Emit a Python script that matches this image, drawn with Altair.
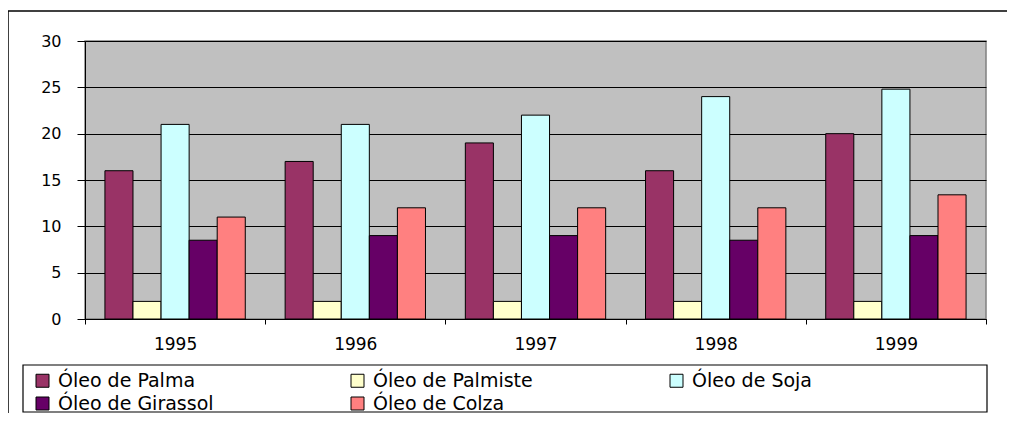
import altair as alt
import pandas as pd

years = ['1995', '1996', '1997', '1998', '1999']
series = ['Óleo de Palma', 'Óleo de Palmiste', 'Óleo de Soja', 'Óleo de Girassol', 'Óleo de Colza']
palma = [16, 17, 19, 16, 20]
palmiste = [1.9, 1.9, 1.9, 1.9, 1.9]
soja = [21, 21, 22, 24, 24.8]
girassol = [8.5, 9, 9, 8.5, 9]
colza = [11, 12, 12, 12, 13.4]
colors = ['#993366', '#FFFFCC', '#CCFFFF', '#660066', '#FF8080']
y_ticks = [0, 5, 10, 15, 20, 25, 30]

rows = []
for name, vals in zip(series, [palma, palmiste, soja, girassol, colza]):
    for yr, v in zip(years, vals):
        rows.append({'Ano': yr, 'Serie': name, 'Valor': v})
df = pd.DataFrame(rows)

W, H = 901, 278
FONT = 'DejaVu Sans'

bars = alt.Chart(df).mark_bar(stroke='black', strokeWidth=1).encode(
    x=alt.X('Ano:N', title=None,
            scale=alt.Scale(paddingInner=0, paddingOuter=0),
            axis=alt.Axis(labelAngle=0, tickBand='extent', tickSize=5,
                          labelFontSize=17, labelFont=FONT, labelColor='black',
                          labelPadding=12, domainColor='black', tickColor='black',
                          domainWidth=1, grid=False)),
    xOffset=alt.XOffset('Serie:N', sort=series,
                        scale=alt.Scale(domain=series, paddingInner=0, paddingOuter=0.71)),
    y=alt.Y('Valor:Q', title=None,
            scale=alt.Scale(domain=[0, 30], nice=False),
            axis=alt.Axis(values=y_ticks, tickSize=8, labelPadding=16,
                          labelFontSize=16, labelFont=FONT, labelColor='black',
                          grid=True, gridColor='black', gridWidth=1,
                          domainColor='black', tickColor='black')),
    color=alt.Color('Serie:N', sort=series,
                    scale=alt.Scale(domain=series, range=colors),
                    legend=alt.Legend(title=None, orient='none', legendX=-52, legendY=330,
                                      direction='horizontal', columns=3,
                                      symbolType='square', symbolSize=169,
                                      symbolStrokeColor='black', symbolStrokeWidth=1,
                                      symbolOpacity=1,
                                      labelFontSize=19, labelFont=FONT, labelColor='black',
                                      labelLimit=400, columnPadding=134, rowPadding=3,
                                      labelOffset=6))
)

frame_df = pd.DataFrame({'k': [0]})
top_rule = alt.Chart(frame_df).mark_rule(color='black', strokeWidth=1.5).encode(
    x=alt.value(-77), x2=alt.value(940), y=alt.value(-30))
left_rule = alt.Chart(frame_df).mark_rule(color='black', strokeWidth=1.5).encode(
    x=alt.value(-77), y=alt.value(-30), y2=alt.value(400))
legend_box = alt.Chart(frame_df).mark_rect(fillOpacity=0, stroke='black', strokeWidth=1.2).encode(
    x=alt.value(-62), x2=alt.value(902), y=alt.value(324), y2=alt.value(371))

chart = alt.layer(bars, top_rule, left_rule, legend_box).properties(
    width=W, height=H,
    padding={'left': 77, 'top': 33, 'right': 21, 'bottom': 94},
    autosize=alt.AutoSizeParams(type='none'),
    background='white'
).configure_view(fill='#C0C0C0', stroke='#808080', strokeWidth=1.5)

chart.save('out.html', embed_options={'renderer': 'svg', 'actions': False})
